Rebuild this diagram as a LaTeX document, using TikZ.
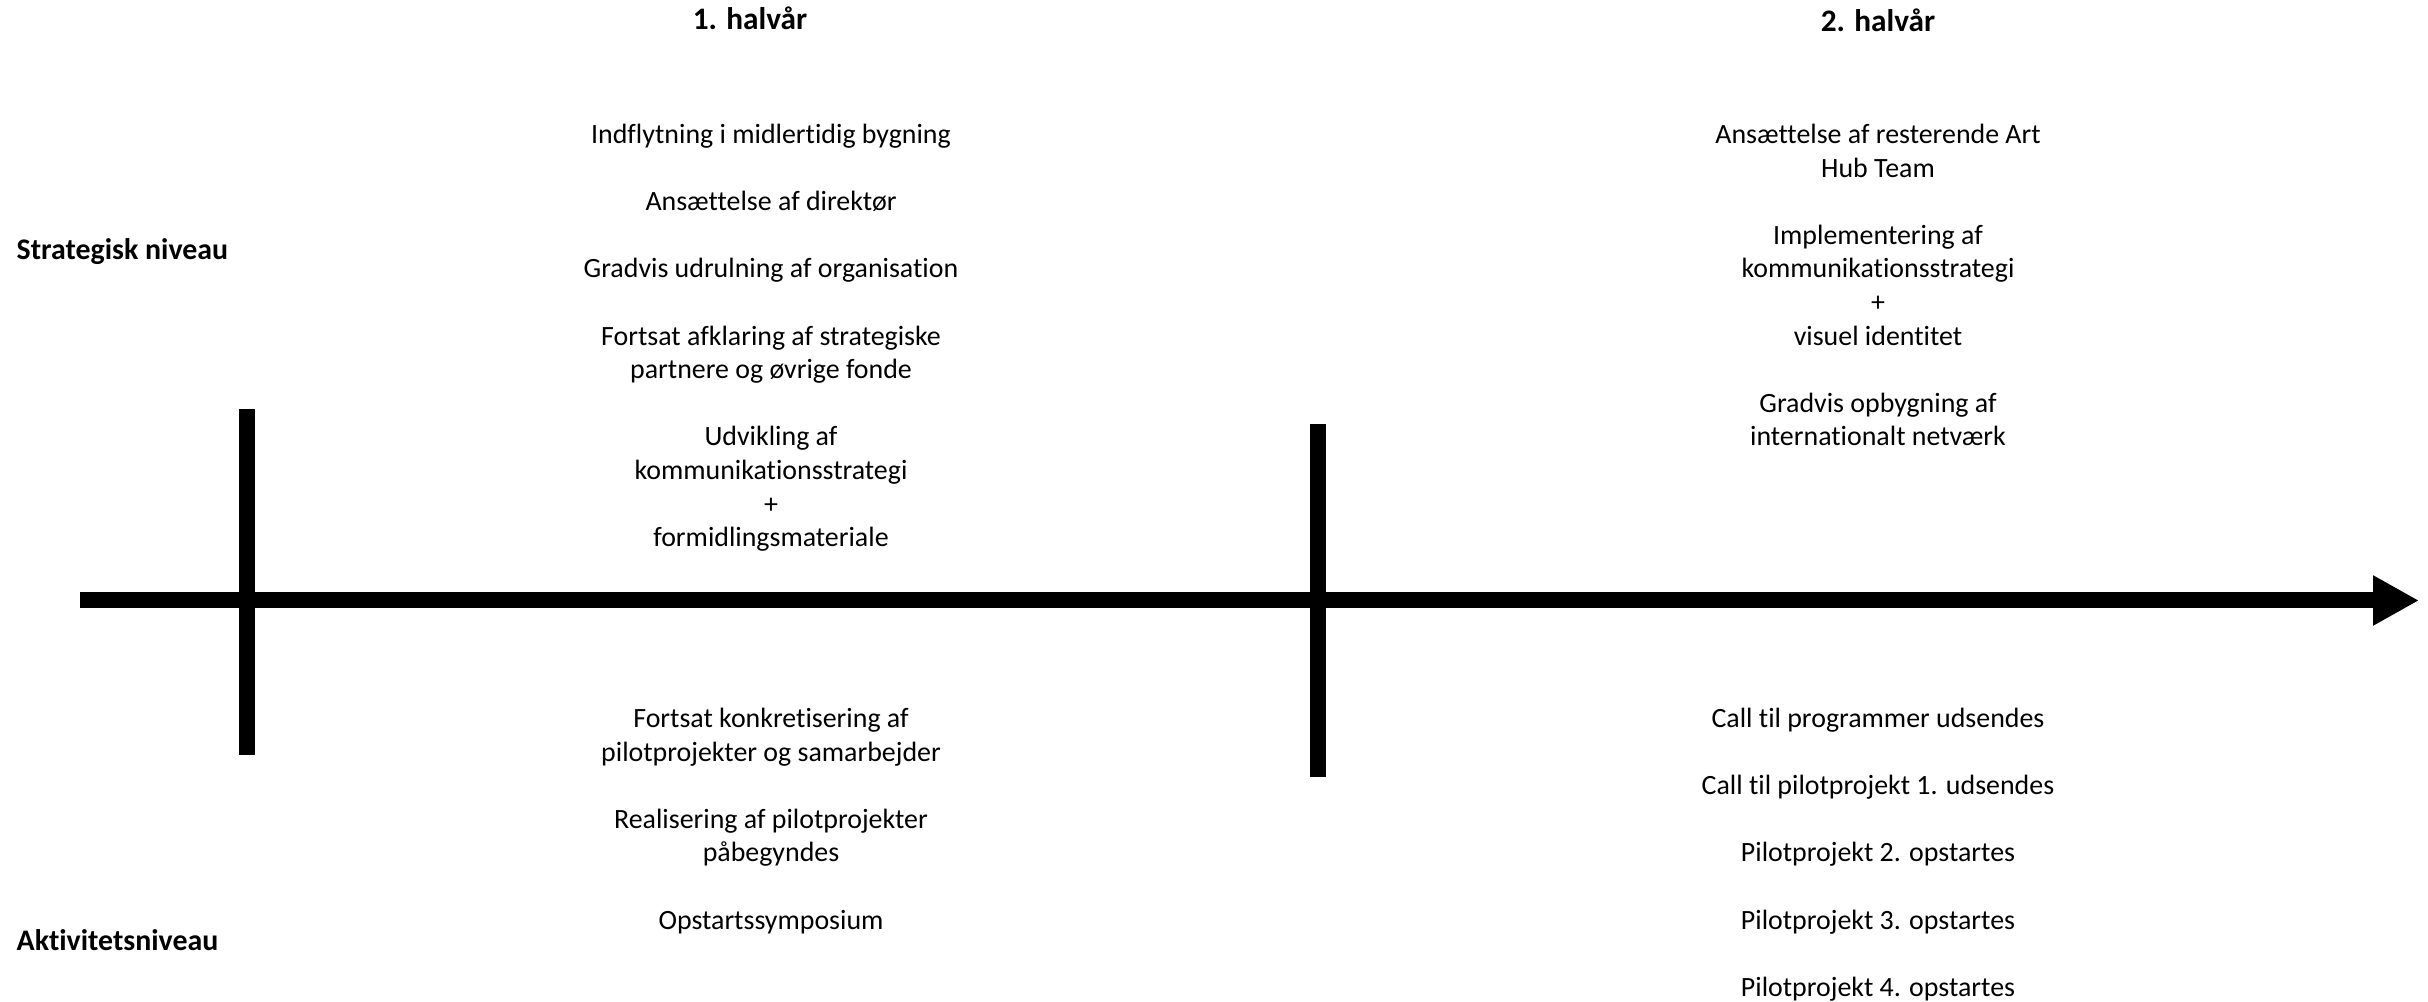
\documentclass[tikz,border=0pt]{standalone}
\usepackage{fontspec}
\setmainfont[Ligatures=NoCommon]{Carlito}
\usetikzlibrary{arrows.meta}
\tikzset{
  item/.style={align=center, inner sep=0pt, anchor=base, font=\fontsize{7.94}{9.56}\selectfont},
  heading/.style={inner sep=0pt, anchor=base, font=\fontsize{8.9}{10.7}\selectfont\bfseries},
  level/.style={inner sep=0pt, anchor=base west, font=\fontsize{8.5}{10.2}\selectfont\bfseries},
  bar/.style={line width=0.16cm}
}

\begin{document}
\begin{tikzpicture}
  \useasboundingbox (0,0) rectangle (24.28,10.02);

  % Timeline
  \coordinate (start) at (0.80,4.015);
  \coordinate (end) at (24.19,4.015);
  \coordinate (t1top) at (2.47,5.93);
  \coordinate (t1bot) at (2.47,2.47);
  \coordinate (t2top) at (13.18,5.78);
  \coordinate (t2bot) at (13.18,2.25);

  \draw[bar, -{Triangle[length=0.46cm, width=0.47cm]}] (start) -- (end);
  \draw[bar] (t1top) -- (t1bot);
  \draw[bar] (t2top) -- (t2bot);

  % Headings and levels
  \node[heading] (h1) at (7.50,9.72) {1. halvår};
  \node[heading] (h2) at (18.78,9.70) {2. halvår};
  \node[level] (strat) at (0.16,7.42) {Strategisk niveau};
  \node[level] (akt) at (0.16,0.51) {Aktivitetsniveau};

  % 1. halvaar, strategisk (base = last line)
  \node[item] (s11) at (7.71,8.585) {Indflytning i midlertidig bygning};
  \node[item] (s12) at (7.71,7.913) {Ansættelse af direktør};
  \node[item] (s13) at (7.71,7.241) {Gradvis udrulning af organisation};
  \node[item] (s14) at (7.71,6.233) {Fortsat afklaring af strategiske\\partnere og øvrige fonde};
  \node[item] (s15) at (7.71,4.553) {Udvikling af\\kommunikationsstrategi\\+\\formidlingsmateriale};

  % 2. halvaar, strategisk
  \node[item] (s21) at (18.78,8.249) {Ansættelse af resterende Art\\Hub Team};
  \node[item] (s22) at (18.78,6.569) {Implementering af\\kommunikationsstrategi\\+\\visuel identitet};
  \node[item] (s23) at (18.78,5.561) {Gradvis opbygning af\\internationalt netværk};

  % 1. halvaar, aktivitet
  \node[item] (a11) at (7.71,2.409) {Fortsat konkretisering af\\pilotprojekter og samarbejder};
  \node[item] (a12) at (7.71,1.401) {Realisering af pilotprojekter\\påbegyndes};
  \node[item] (a13) at (7.71,0.729) {Opstartssymposium};

  % 2. halvaar, aktivitet
  \node[item] (a21) at (18.78,2.745) {Call til programmer udsendes};
  \node[item] (a22) at (18.78,2.073) {Call til pilotprojekt 1. udsendes};
  \node[item] (a23) at (18.78,1.401) {Pilotprojekt 2. opstartes};
  \node[item] (a24) at (18.78,0.729) {Pilotprojekt 3. opstartes};
  \node[item] (a25) at (18.78,0.057) {Pilotprojekt 4. opstartes};
\end{tikzpicture}
\end{document}
